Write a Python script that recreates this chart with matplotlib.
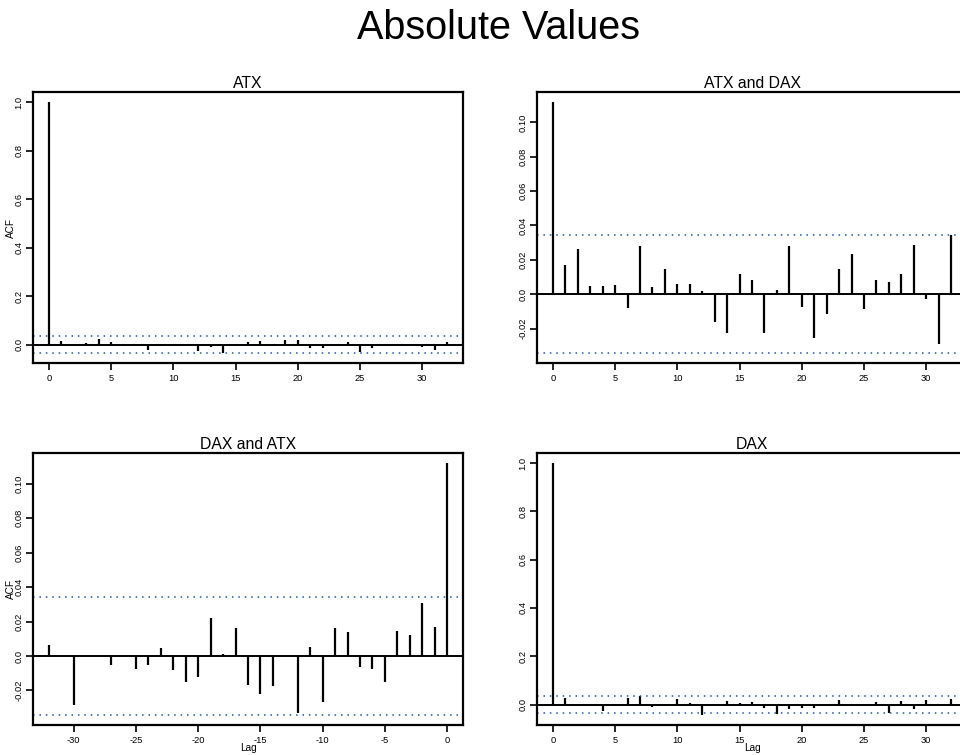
import numpy as np
import matplotlib
matplotlib.use("Agg")
import matplotlib.pyplot as plt

plt.rcParams['font.family'] = ['Liberation Sans', 'DejaVu Sans']

# ---------------- data ----------------
lags_pos = np.arange(0, 33)
lags_neg = np.arange(-32, 1)
conf = 0.0342

acf_atx = [1.0, 0.017, -0.004, 0.005, 0.023, 0.010, -0.006, 0.004, -0.020, 0.001,
           -0.001, 0.001, -0.025, -0.009, -0.034, 0.004, 0.011, 0.014, 0.001, 0.018,
           0.018, -0.014, -0.012, -0.002, 0.011, -0.030, -0.012, -0.002, 0.002, 0.001,
           -0.010, -0.020, 0.010]

ccf_atx_dax = [0.1118, 0.0171, 0.0262, 0.0045, 0.0049, 0.0056, -0.0083, 0.0282, 0.0043, 0.0148,
               0.0060, 0.0060, 0.0019, -0.0163, -0.0223, 0.0117, 0.0082, -0.0227, 0.0025, 0.0282,
               -0.0076, -0.0254, -0.0117, 0.0146, 0.0235, -0.0087, 0.0083, 0.0070, 0.0115, 0.0289,
               -0.0029, -0.0291, 0.0344]

# lags -32 ... 0
ccf_dax_atx = [0.0062, 0.0002, -0.0282, 0.0002, -0.0002, -0.0052, 0.0002, -0.0078, -0.0052, 0.0049,
               -0.0082, -0.0148, -0.0120, 0.0221, 0.0010, 0.0165, -0.0167, -0.0221, -0.0173, 0.0002,
               -0.0332, 0.0050, -0.0268, 0.0165, 0.0140, -0.0064, -0.0074, -0.0148, 0.0144, 0.0120,
               0.0309, 0.0169, 0.1120]

acf_dax = [1.0, 0.029, -0.008, -0.005, -0.026, 0.003, 0.026, 0.036, -0.010, 0.004,
           0.024, 0.007, -0.043, 0.004, 0.015, 0.007, 0.011, -0.015, -0.039, -0.017,
           -0.014, -0.014, -0.008, 0.017, -0.008, -0.008, 0.010, -0.036, 0.014, -0.018,
           0.017, 0.001, 0.021]

small_ticks = [-0.02, 0.0, 0.02, 0.04, 0.06, 0.08, 0.10]
small_labels = ["-0.02", "0.0", "0.02", "0.04", "0.06", "0.08", "0.10"]
big_ticks = [0.0, 0.2, 0.4, 0.6, 0.8, 1.0]
big_labels = ["0.0", "0.2", "0.4", "0.6", "0.8", "1.0"]

W, H = 960, 755
fig = plt.figure(figsize=(W / 100, H / 100), dpi=100)


def box(x0, y0, x1, y1):
    return [x0 / W, 1 - y1 / H, (x1 - x0) / W, (y1 - y0) / H]


def acf_panel(rect, lags, vals, title, yticks, ylabels, xticks, ylab=False, xlab=False):
    ax = fig.add_axes(rect)
    vals = np.asarray(vals)
    lo = min(vals.min(), -conf)
    hi = max(vals.max(), conf)
    pad_y = (hi - lo) * 0.04
    pad_x = (lags.max() - lags.min()) * 0.04
    ax.set_xlim(lags.min() - pad_x, lags.max() + pad_x)
    ax.set_ylim(lo - pad_y, hi + pad_y)
    ax.vlines(lags, 0, vals, color='black', lw=1.6)
    ax.axhline(0, color='black', lw=1.4)
    for c in (conf, -conf):
        ax.axhline(c, color='#1f55a8', lw=1.1, ls=(0, (1, 3.2)))
    ax.set_yticks(yticks)
    ax.set_yticklabels(ylabels, rotation=90, va='center')
    ax.set_xticks(xticks)
    ax.set_xticklabels([str(v) for v in xticks])
    ax.tick_params(direction='out', length=5, width=1.2, labelsize=6.7, pad=2)
    ax.tick_params(axis='x', pad=3)
    for s in ax.spines.values():
        s.set_linewidth(1.6)
    ax.set_title(title, fontsize=11.3, pad=3)
    if ylab:
        ax.set_ylabel("ACF", fontsize=7.2, labelpad=-1)
    if xlab:
        ax.text(0.5, -0.085, "Lag", transform=ax.transAxes, ha='center', va='center', fontsize=7.2)
    return ax


xt = list(range(0, 31, 5))
acf_panel(box(33, 92, 463, 363), lags_pos, acf_atx, "ATX", big_ticks, big_labels, xt, ylab=True)
acf_panel(box(537, 92, 967, 363), lags_pos, ccf_atx_dax, "ATX and DAX", small_ticks, small_labels, xt)
acf_panel(box(33, 453, 463, 725), lags_neg, ccf_dax_atx, "DAX and ATX", small_ticks, small_labels,
          list(range(-30, 1, 5)), ylab=True, xlab=True)
acf_panel(box(537, 453, 967, 725), lags_pos, acf_dax, "DAX", big_ticks, big_labels, xt, xlab=True)

fig.text(498 / W, 1 - 28 / H, "Absolute Values", ha='center', va='center', fontsize=28.5)

fig.savefig("out.png", dpi=100)
